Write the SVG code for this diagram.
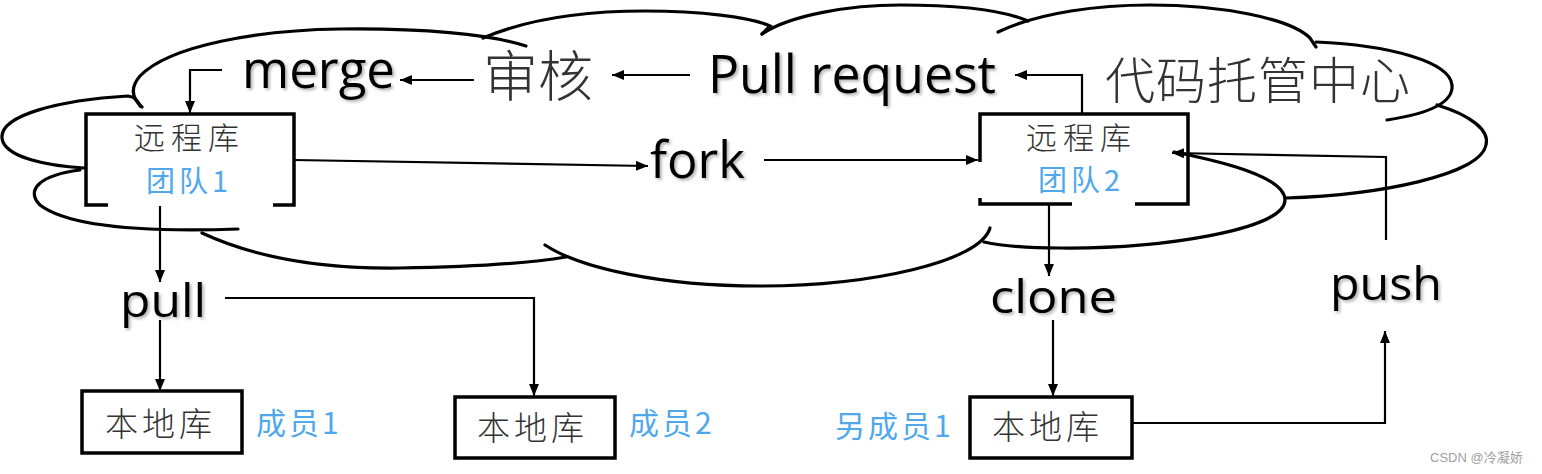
<svg xmlns="http://www.w3.org/2000/svg" width="1542" height="474" viewBox="0 0 1542 474">
<style>
.cloud{fill:none;stroke:#000;stroke-width:3.2;stroke-linecap:round}
.box{fill:none;stroke:#000;stroke-width:3.5}
.conn{fill:none;stroke:#000;stroke-width:2.2}
.en{font-family:"Open Sans","Liberation Sans",sans-serif;fill:#000;filter:url(#sh)}
.cn{font-family:"Noto Sans CJK SC",sans-serif;font-weight:300;fill:#333}
.blue{font-family:"Noto Sans CJK SC",sans-serif;fill:#4fa8ec}
.wm{font-family:"Liberation Sans","Noto Sans CJK SC",sans-serif;fill:#a0a0a0;font-size:13px}
</style>
<defs>
<marker id="ah" viewBox="0 0 12 10" refX="12" refY="5" markerWidth="12" markerHeight="10" markerUnits="userSpaceOnUse" orient="auto"><path d="M0,0 L12,5 L0,10 z" fill="#000"/></marker>
<filter id="sh" x="-10%" y="-10%" width="130%" height="140%"><feDropShadow dx="2" dy="2" stdDeviation="1.5" flood-color="#000" flood-opacity="0.3"/></filter>
</defs>
<g id="cloud">
<path class="cloud" d="M142,107 C134,100 128,90 140,76 C170,45 260,30 340,29 C420,28 490,34 526,46"/>
<path class="cloud" d="M483,38 C530,18 590,11 645,11 C700,11 750,17 770,26 L762,34"/>
<path class="cloud" d="M762,34 C790,15 850,5 900,5 C960,5 1005,11 1028,21"/>
<path class="cloud" d="M998,32 C1040,12 1100,5 1150,5 C1220,5 1290,18 1310,38 L1316,47"/>
<path class="cloud" d="M1316,42 C1390,45 1450,62 1452,85 C1454,105 1420,115 1387,120"/>
<path class="cloud" d="M1437,105 C1470,115 1490,130 1486,145 C1480,175 1380,195 1286,198"/>
<path class="cloud" d="M1174,152 C1240,165 1285,180 1285,200 C1285,230 1160,249 1060,248 C1025,248 998,245 984,242"/>
<path class="cloud" d="M990,228 C980,262 870,286 760,286 C660,286 580,268 545,245"/>
<path class="cloud" d="M202,233 C260,260 330,269 400,268 C470,267 530,263 566,257"/>
<path class="cloud" d="M80,170 C40,175 25,190 40,205 C70,228 150,232 238,229"/>
<path class="cloud" d="M140,106 C138,100 135,97 128,96 C60,100 0,115 2,138 C4,158 50,166 84,168"/>
</g>
<g id="connectors">
<path class="conn" d="M222,70 H190 V113" marker-end="url(#ah)"/>
<path class="conn" d="M474,80 H400" marker-end="url(#ah)"/>
<path class="conn" d="M690,75 H612" marker-end="url(#ah)"/>
<path class="conn" d="M1082,113 V75 H1015" marker-end="url(#ah)"/>
<path class="conn" d="M294,160 L648,166" marker-end="url(#ah)"/>
<path class="conn" d="M764,160 H978" marker-end="url(#ah)"/>
<path class="conn" d="M1386,240 V157 L1172,153" marker-end="url(#ah)"/>
<path class="conn" d="M160,206 V282" marker-end="url(#ah)"/>
<path class="conn" d="M160,320 V391" marker-end="url(#ah)"/>
<path class="conn" d="M225,298 H534 V396" marker-end="url(#ah)"/>
<path class="conn" d="M1049,204 V276" marker-end="url(#ah)"/>
<path class="conn" d="M1053,320 V396" marker-end="url(#ah)"/>
<path class="conn" d="M1133,423 H1385 V331" marker-end="url(#ah)"/>
</g>
<g id="labels">
<text class="en" x="242" y="88" font-size="51" textLength="153" lengthAdjust="spacingAndGlyphs">merge</text>
<text class="en" x="708" y="93" font-size="53" textLength="288" lengthAdjust="spacingAndGlyphs">Pull request</text>
<text class="en" x="650" y="178" font-size="52" textLength="95" lengthAdjust="spacingAndGlyphs">fork</text>
<text class="en" x="120" y="317" font-size="46" textLength="86" lengthAdjust="spacingAndGlyphs">pull</text>
<text class="en" x="990" y="313" font-size="46" textLength="127" lengthAdjust="spacingAndGlyphs">clone</text>
<text class="en" x="1330" y="300" font-size="46" textLength="112" lengthAdjust="spacingAndGlyphs">push</text>
<text class="cn" x="483" y="96" font-size="55">审核</text>
<text class="cn" x="1105" y="99" font-size="50" letter-spacing="1">代码托管中心</text>
</g>
<g id="remote1">
<path class="box" d="M108,205 H86 V114 H294 V205 H273"/>
<text class="cn" x="134" y="149" font-size="31" letter-spacing="6">远程库</text>
<text class="blue" x="146" y="192" font-size="29" letter-spacing="4">团队1</text>
</g>
<g id="remote2">
<path class="box" d="M980,162 V114 H1188 V204 H1135 M1072,204 H980 V198"/>
<text class="cn" x="1026" y="149" font-size="31" letter-spacing="6">远程库</text>
<text class="blue" x="1038" y="191" font-size="29" letter-spacing="4">团队2</text>
</g>
<g id="local1">
<rect class="box" x="82" y="391" width="160" height="62"/>
<text class="cn" x="105" y="436" font-size="33" letter-spacing="4">本地库</text>
<text class="blue" x="256" y="434" font-size="30" letter-spacing="3">成员1</text>
</g>
<g id="local2">
<rect class="box" x="455" y="397" width="160" height="61"/>
<text class="cn" x="477" y="440" font-size="33" letter-spacing="4">本地库</text>
<text class="blue" x="629" y="434" font-size="30" letter-spacing="3">成员2</text>
</g>
<g id="local3">
<rect class="box" x="970" y="397" width="162" height="61"/>
<text class="cn" x="992" y="439" font-size="33" letter-spacing="4">本地库</text>
<text class="blue" x="835" y="437" font-size="30" letter-spacing="3">另成员1</text>
</g>
<text class="wm" x="1430" y="462">CSDN @冷凝娇</text>
</svg>
